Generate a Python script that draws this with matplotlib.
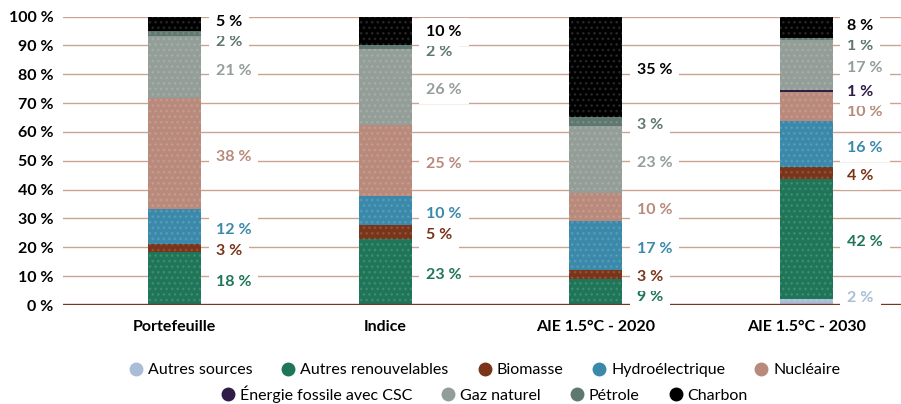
import numpy as np
import matplotlib.pyplot as plt
from matplotlib.lines import Line2D

plt.rcParams['font.family'] = ['Lato', 'DejaVu Sans']
plt.rcParams['hatch.linewidth'] = 1.2

# %%
scenarios = ['Portefeuille', 'Indice', 'AIE 1.5°C - 2020', 'AIE 1.5°C - 2030']

series = ['Autres sources', 'Autres renouvelables', 'Biomasse', 'Hydroélectrique',
          'Nucléaire', 'Énergie fossile avec CSC', 'Gaz naturel', 'Pétrole', 'Charbon']
colors = ['#a9bdd6', '#1f7558', '#7a3419', '#3a89ab', '#b98a7b',
          '#2f1c47', '#949e98', '#5f786f', '#000000']

# bar heights (%)
autres_sources = [0.0, 0.0, 0.0, 2.1]
autres_renouvelables = [18.4, 22.9, 9.0, 41.7]
biomasse = [2.9, 4.9, 3.1, 4.0]
hydro = [12.0, 10.0, 17.0, 15.9]
nucleaire = [38.4, 24.7, 9.9, 10.1]
fossile_csc = [0.0, 0.0, 0.0, 0.7]
gaz = [21.4, 26.3, 23.2, 17.4]
petrole = [1.8, 1.5, 3.1, 0.8]
charbon = [5.1, 9.7, 34.7, 7.3]

# percentages printed next to the bars
lbl_autres_sources = [0, 0, 0, 2]
lbl_autres_renouvelables = [18, 23, 9, 42]
lbl_biomasse = [3, 5, 3, 4]
lbl_hydro = [12, 10, 17, 16]
lbl_nucleaire = [38, 25, 10, 10]
lbl_fossile_csc = [0, 0, 0, 1]
lbl_gaz = [21, 26, 23, 17]
lbl_petrole = [2, 2, 3, 1]
lbl_charbon = [5, 10, 35, 8]

values = np.array([autres_sources, autres_renouvelables, biomasse, hydro, nucleaire,
                   fossile_csc, gaz, petrole, charbon])
labels = np.array([lbl_autres_sources, lbl_autres_renouvelables, lbl_biomasse, lbl_hydro,
                   lbl_nucleaire, lbl_fossile_csc, lbl_gaz, lbl_petrole, lbl_charbon])

# %%
def spread_labels(centers, gap=7.0, lo=3.5, hi=100):
    # push label positions apart so they don't overlap
    order = np.argsort(centers)[::-1]
    y = np.array(centers, dtype=float)[order]
    for _ in range(200):
        for i in range(len(y) - 1):
            d = y[i] - y[i + 1]
            if d < gap:
                shift = (gap - d) / 2
                y[i] += shift
                y[i + 1] -= shift
        y = np.clip(y, lo, hi)
    out = np.empty_like(y)
    out[order] = y
    return out

# %%
fig = plt.figure(figsize=(9.01, 4.04), dpi=100)
ax = fig.add_axes([0.07, 0.245, 0.93, 0.714])

x = np.arange(len(scenarios))
width = 0.25
grid_col = '#c9a493'

for yv in range(10, 101, 10):
    ax.axhline(yv, color=grid_col, lw=1, zorder=0)
ax.axhline(0, color='#7a3419', lw=2.4, zorder=3)

bottom = np.zeros(len(scenarios))
for k in range(len(series)):
    ax.bar(x, values[k], width, bottom=bottom, color=colors[k], zorder=2,
           edgecolor=(1, 1, 1, 0.12), linewidth=0, hatch='...')
    bottom += values[k]

# value labels
for j in range(len(scenarios)):
    idx = [k for k in range(len(series)) if labels[k, j] > 0]
    base = np.cumsum(values[:, j]) - values[:, j]
    centers = [base[k] + values[k, j] / 2 for k in idx]
    ys = spread_labels(centers)
    for k, yv in zip(idx, ys):
        ax.text(x[j] + width / 2 + 0.07, yv - 1.2, f'{labels[k, j]} %', color=colors[k],
                fontsize=11.5, fontweight='bold', ha='left', va='center', zorder=4,
                bbox=dict(facecolor='white', edgecolor='none', pad=5))

ax.set_xlim(-0.53, 3.45)
ax.set_ylim(0, 100)
ax.set_yticks(range(0, 101, 10))
ax.set_yticklabels([f'{v} %' for v in range(0, 101, 10)], fontsize=11.5, fontweight='bold')
ax.set_xticks(x)
ax.set_xticklabels(scenarios, fontsize=11.5, fontweight='bold')
ax.tick_params(length=0, pad=7)
ax.tick_params(axis='x', pad=11)
for s in ax.spines.values():
    s.set_visible(False)

def handles(ks):
    return [Line2D([], [], marker='o', ls='', markersize=9, color=colors[k],
                   label=series[k]) for k in ks]

leg_opts = dict(loc='center', frameon=False, fontsize=11.5, handlelength=0.8,
                handletextpad=0.35, columnspacing=1.85, borderpad=0)
fig.legend(handles=handles(range(5)), ncol=5, bbox_to_anchor=(0.538, 0.084), **leg_opts)
fig.legend(handles=handles(range(5, 9)), ncol=4, bbox_to_anchor=(0.538, 0.025), **leg_opts)

fig.savefig('out.png', dpi=100)
